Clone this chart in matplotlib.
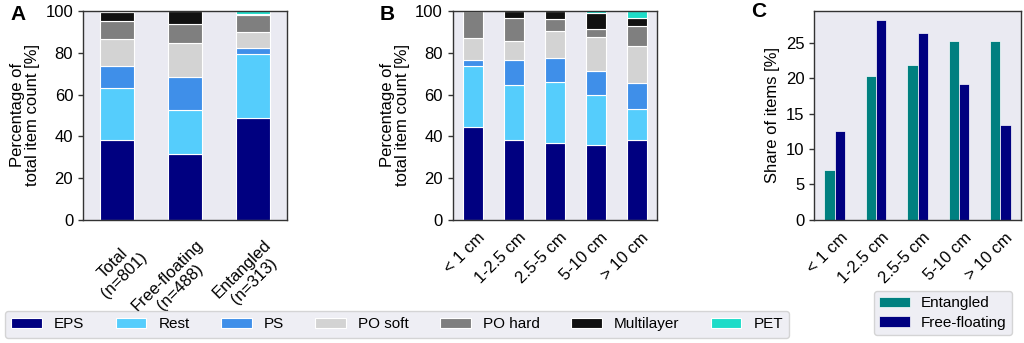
import numpy as np
import matplotlib as mpl
mpl.use('Agg')
from matplotlib import pyplot as plt
from matplotlib.transforms import ScaledTranslation

# -- data -- #
materials = ['EPS', 'Rest', 'PS', 'PO soft', 'PO hard', 'Multilayer', 'PET']
colors = ['#000080', '#55cdfc', '#3f8fe9', '#d3d3d3', '#7f7f7f', '#111111', '#1ddcc8']

groups = ['Total\n(n=801)', 'Free-floating\n(n=488)', 'Entangled\n(n=313)']
share_groups = {
    'EPS':        [38.0, 31.6, 48.8],
    'Rest':       [25.2, 20.9, 30.5],
    'PS':         [10.3, 15.9, 2.9],
    'PO soft':    [12.9, 16.4, 7.8],
    'PO hard':    [9.0, 8.8, 8.1],
    'Multilayer': [4.1, 6.4, 0.4],
    'PET':        [0.5, 0.0, 1.5],
}

sizes = ['< 1 cm', '1-2.5 cm', '2.5-5 cm', '5-10 cm', '> 10 cm']
share_sizes = {
    'EPS':        [44.5, 38.3, 36.7, 36.0, 38.3],
    'Rest':       [29.2, 26.5, 29.2, 24.0, 15.0],
    'PS':         [3.0, 11.9, 11.6, 11.1, 12.1],
    'PO soft':    [10.2, 8.8, 12.8, 16.3, 17.7],
    'PO hard':    [13.1, 11.2, 5.7, 4.1, 9.7],
    'Multilayer': [0.0, 3.3, 4.0, 7.4, 3.9],
    'PET':        [0.0, 0.0, 0.0, 1.1, 3.3],
}

entangled = [7.0, 20.3, 21.9, 25.2, 25.2]
free_floating = [12.5, 28.2, 26.4, 19.2, 13.4]

plt.rcParams['font.family'] = ['Liberation Sans', 'DejaVu Sans']
plt.rcParams['font.size'] = 12
plt.rcParams['axes.facecolor'] = '#eaeaf2'
plt.rcParams['axes.edgecolor'] = '#333333'
plt.rcParams['axes.linewidth'] = 1.0
plt.rcParams['legend.facecolor'] = '#eaeaf2'
plt.rcParams['legend.edgecolor'] = '#cccccc'
plt.rcParams['legend.framealpha'] = 0.8


def stacked(ax, labels, shares):
    x = np.arange(len(labels))
    bottom = np.zeros(len(labels))
    handles = []
    for name, col in zip(materials, colors):
        vals = np.array(shares[name])
        h = ax.bar(x, vals, 0.5, bottom=bottom, color=col,
                   edgecolor='white', linewidth=0.8, label=name)
        handles.append(h)
        bottom += vals
    ax.set_xlim(-0.5, len(labels) - 0.5)
    ax.set_ylim(0, 100)
    ax.set_xticks(x)
    ax.set_xticklabels(labels, rotation=45, ha='right', rotation_mode='anchor',
                       multialignment='center', linespacing=1.15)
    ax.set_ylabel('Percentage of\ntotal item count [%]', linespacing=1.0,
                  fontsize=12)
    return handles


def style(ax, dx, dy):
    ax.tick_params(axis='x', length=0, pad=6, labelsize=12)
    ax.tick_params(axis='y', length=3.5, width=1, color='#333333', labelsize=12)
    # nudge rotated tick labels (pixels)
    off = ScaledTranslation(dx / 100, dy / 100, ax.figure.dpi_scale_trans)
    for lab in ax.get_xticklabels():
        lab.set_transform(lab.get_transform() + off)


fig = plt.figure(figsize=(10.24, 3.43), dpi=100)
axA = fig.add_axes([0.081, 0.359, 0.199, 0.609])
axB = fig.add_axes([0.442, 0.359, 0.200, 0.609])
axC = fig.add_axes([0.795, 0.359, 0.202, 0.609])

handles = stacked(axA, groups, share_groups)
stacked(axB, sizes, share_sizes)

x = np.arange(len(sizes))
w = 0.25
axC.bar(x - w / 2, entangled, w, color='#008080', edgecolor='white',
        linewidth=0.5, label='Entangled')
axC.bar(x + w / 2, free_floating, w, color='#000080', edgecolor='white',
        linewidth=0.5, label='Free-floating')
axC.set_xlim(-0.5, len(sizes) - 0.5)
axC.set_ylim(0, 29.5)
axC.set_yticks([0, 5, 10, 15, 20, 25])
axC.set_xticks(x)
axC.set_xticklabels(sizes, rotation=45, ha='right', rotation_mode='anchor')
axC.set_ylabel('Share of items [%]', fontsize=12)

style(axA, 11, -9)
style(axB, 4, -2)
style(axC, 5, -2)

fig.text(0.010, 0.985, 'A', fontsize=15, fontweight='bold', va='top')
fig.text(0.371, 0.985, 'B', fontsize=15, fontweight='bold', va='top')
fig.text(0.734, 0.993, 'C', fontsize=15, fontweight='bold', va='top')

fig.legend(handles, materials, loc='center', ncol=7,
           bbox_to_anchor=(0.388, 0.054), fontsize=11, handlelength=2.0,
           handletextpad=0.8, columnspacing=2.05, borderpad=0.4)
axC.legend(loc='upper right', bbox_to_anchor=(0.988, 0.152),
           bbox_transform=fig.transFigure, borderaxespad=0, fontsize=11,
           handlelength=2.0, handletextpad=0.7, labelspacing=0.35,
           borderpad=0.35)

fig.savefig('out.png', dpi=100)
